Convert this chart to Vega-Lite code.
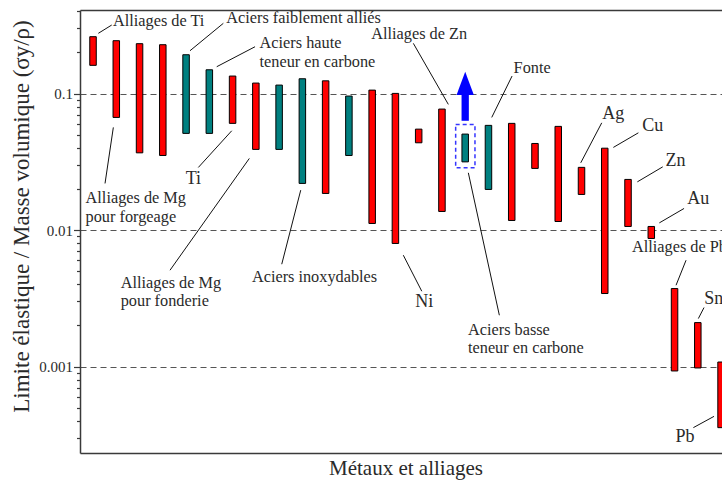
{
  "$schema": "https://vega.github.io/schema/vega-lite/v6.json",
  "width": 642,
  "height": 443,
  "autosize": {"type": "none"},
  "padding": {"left": 80, "top": 10, "right": 0, "bottom": 28},
  "background": "white",
  "config": {
    "view": {"stroke": null},
    "text": {"font": "Liberation Serif"},
    "axis": {"labelFont": "Liberation Serif", "titleFont": "Liberation Serif", "titleFontWeight": "normal", "domainColor": "#3a3a3a", "domainWidth": 1.5}
  },
  "datasets": {
    "barres": [
      {"idx": 1, "bas": 0.161, "haut": 0.261, "groupe": "Non ferreux"},
      {"idx": 2, "bas": 0.0669, "haut": 0.244, "groupe": "Non ferreux"},
      {"idx": 3, "bas": 0.0368, "haut": 0.232, "groupe": "Non ferreux"},
      {"idx": 4, "bas": 0.0352, "haut": 0.228, "groupe": "Non ferreux"},
      {"idx": 5, "bas": 0.0511, "haut": 0.1925, "groupe": "Aciers"},
      {"idx": 6, "bas": 0.0511, "haut": 0.1494, "groupe": "Aciers"},
      {"idx": 7, "bas": 0.0605, "haut": 0.1344, "groupe": "Non ferreux"},
      {"idx": 8, "bas": 0.039, "haut": 0.1194, "groupe": "Non ferreux"},
      {"idx": 9, "bas": 0.039, "haut": 0.1154, "groupe": "Aciers"},
      {"idx": 10, "bas": 0.02197, "haut": 0.1284, "groupe": "Aciers"},
      {"idx": 11, "bas": 0.01855, "haut": 0.124, "groupe": "Non ferreux"},
      {"idx": 12, "bas": 0.0352, "haut": 0.0959, "groupe": "Aciers"},
      {"idx": 13, "bas": 0.01118, "haut": 0.106, "groupe": "Non ferreux"},
      {"idx": 14, "bas": 0.00798, "haut": 0.1003, "groupe": "Non ferreux"},
      {"idx": 15, "bas": 0.0436, "haut": 0.0549, "groupe": "Non ferreux"},
      {"idx": 16, "bas": 0.01369, "haut": 0.077, "groupe": "Non ferreux"},
      {"idx": 17, "bas": 0.0316, "haut": 0.0505, "groupe": "Aciers"},
      {"idx": 18, "bas": 0.01985, "haut": 0.0585, "groupe": "Aciers"},
      {"idx": 19, "bas": 0.01176, "haut": 0.0605, "groupe": "Non ferreux"},
      {"idx": 20, "bas": 0.0283, "haut": 0.0431, "groupe": "Non ferreux"},
      {"idx": 21, "bas": 0.01156, "haut": 0.0575, "groupe": "Non ferreux"},
      {"idx": 22, "bas": 0.01824, "haut": 0.0288, "groupe": "Non ferreux"},
      {"idx": 23, "bas": 0.00343, "haut": 0.0398, "groupe": "Non ferreux"},
      {"idx": 24, "bas": 0.01063, "haut": 0.0235, "groupe": "Non ferreux"},
      {"idx": 25, "bas": 0.00868, "haut": 0.01063, "groupe": "Non ferreux"},
      {"idx": 26, "bas": 0.000929, "haut": 0.00373, "groupe": "Non ferreux"},
      {"idx": 27, "bas": 0.000977, "haut": 0.0021, "groupe": "Non ferreux"},
      {"idx": 28, "bas": 0.000357, "haut": 0.00108, "groupe": "Non ferreux"}
    ],
    "cadre": [
      {"x1": 16.59, "x2": 17.42, "bas": 0.0286, "haut": 0.0594}
    ],
    "fleche": [
      {"idx": 17, "queue": 0.0632, "col": 0.0985, "pointe": 0.1187}
    ],
    "traits": [
      {"x1": 1.228, "y1": 0.2763, "x2": 1.804, "y2": 0.3178},
      {"x1": 5.17, "y1": 0.206, "x2": 6.602, "y2": 0.3271},
      {"x1": 6.318, "y1": 0.1573, "x2": 7.965, "y2": 0.2204},
      {"x1": 1.873, "y1": 0.05652, "x2": 1.516, "y2": 0.02196},
      {"x1": 6.963, "y1": 0.05339, "x2": 5.527, "y2": 0.02876},
      {"x1": 7.72, "y1": 0.03349, "x2": 4.31, "y2": 0.005082},
      {"x1": 9.93, "y1": 0.01962, "x2": 9.113, "y2": 0.005623},
      {"x1": 14.77, "y1": 0.2333, "x2": 16.275, "y2": 0.08332},
      {"x1": 19.014, "y1": 0.1344, "x2": 18.141, "y2": 0.0669},
      {"x1": 14.34, "y1": 0.006546, "x2": 15.133, "y2": 0.003565},
      {"x1": 17.135, "y1": 0.02627, "x2": 18.468, "y2": 0.002377},
      {"x1": 21.967, "y1": 0.0311, "x2": 22.87, "y2": 0.06105},
      {"x1": 23.369, "y1": 0.04033, "x2": 24.445, "y2": 0.0516},
      {"x1": 24.401, "y1": 0.02256, "x2": 25.493, "y2": 0.02906},
      {"x1": 25.346, "y1": 0.01129, "x2": 26.409, "y2": 0.0144},
      {"x1": 26.065, "y1": 0.003945, "x2": 26.495, "y2": 0.006015},
      {"x1": 27.023, "y1": 0.002248, "x2": 27.268, "y2": 0.002708},
      {"x1": 26.809, "y1": 0.0003571, "x2": 27.698, "y2": 0.000432}
    ],
    "notes": [
      {"texte": "Alliages de Ti", "nx": 1.86, "ny": 0.3418, "genre": "etiquette"},
      {"texte": "Aciers faiblement alliés", "nx": 6.73, "ny": 0.3559, "genre": "etiquette"},
      {"texte": "Aciers haute", "nx": 8.16, "ny": 0.2357, "genre": "etiquette"},
      {"texte": "teneur en carbone", "nx": 8.16, "ny": 0.171, "genre": "etiquette"},
      {"texte": "Alliages de Mg", "nx": 0.68, "ny": 0.01705, "genre": "etiquette"},
      {"texte": "pour forgeage", "nx": 0.68, "ny": 0.0125, "genre": "etiquette"},
      {"texte": "Ti", "nx": 5.312, "ny": 0.0235, "genre": "symbole"},
      {"texte": "Alliages de Mg", "nx": 2.19, "ny": 0.0041, "genre": "etiquette"},
      {"texte": "pour fonderie", "nx": 2.19, "ny": 0.003011, "genre": "etiquette"},
      {"texte": "Aciers inoxydables", "nx": 7.83, "ny": 0.004538, "genre": "etiquette"},
      {"texte": "Alliages de Zn", "nx": 12.96, "ny": 0.2716, "genre": "etiquette"},
      {"texte": "Fonte", "nx": 19.08, "ny": 0.1546, "genre": "etiquette"},
      {"texte": "Ni", "nx": 15.243, "ny": 0.002976, "genre": "symbole"},
      {"texte": "Aciers basse", "nx": 17.12, "ny": 0.001867, "genre": "etiquette"},
      {"texte": "teneur en carbone", "nx": 17.12, "ny": 0.001378, "genre": "etiquette"},
      {"texte": "Ag", "nx": 23.369, "ny": 0.07038, "genre": "symbole"},
      {"texte": "Cu", "nx": 25.067, "ny": 0.05777, "genre": "symbole"},
      {"texte": "Zn", "nx": 26.043, "ny": 0.03216, "genre": "symbole"},
      {"texte": "Au", "nx": 27.023, "ny": 0.01676, "genre": "symbole"},
      {"texte": "Alliages de Pb", "nx": 24.17, "ny": 0.007456, "genre": "etiquette"},
      {"texte": "Sn", "nx": 27.68, "ny": 0.003151, "genre": "symbole"},
      {"texte": "Pb", "nx": 26.45, "ny": 0.0003047, "genre": "symbole"}
    ]
  },
  "layer": [
    {
      "data": {"name": "barres"},
      "mark": {"type": "bar", "size": 6.5, "stroke": "black", "strokeWidth": 1},
      "encoding": {
        "x": {
          "field": "idx", "type": "quantitative",
          "scale": {"domain": [0.44, 28.04], "nice": false, "zero": false, "padding": 0},
          "axis": {"orient": "bottom", "title": "Métaux et alliages", "labels": false, "ticks": false, "grid": false,
                   "titleFontSize": 21, "titleColor": "#2a2a2a", "titleX": 325.5, "titleY": 21, "titleAlign": "center", "titleBaseline": "alphabetic"}
        },
        "y": {
          "field": "haut", "type": "quantitative",
          "scale": {"type": "log", "domain": [0.0002328, 0.4095], "nice": false, "padding": 0},
          "axis": {
            "title": "Limite élastique / Masse volumique (σy/ρ)",
            "values": [0.0003, 0.0004, 0.0005, 0.0006, 0.0007, 0.0008, 0.0009, 0.001, 0.002, 0.003, 0.004, 0.005, 0.006, 0.007, 0.008, 0.009, 0.01, 0.02, 0.03, 0.04, 0.05, 0.06, 0.07, 0.08, 0.09, 0.1, 0.2, 0.3, 0.4],
            "labelExpr": "datum.value == 0.1 ? '0.1' : datum.value == 0.01 ? '0.01' : datum.value == 0.001 ? '0.001' : ''",
            "labelOverlap": false,
            "labelFontSize": 15, "labelColor": "#2a2a2a", "labelPadding": 1,
            "tickColor": "#3a3a3a", "tickWidth": 1.2,
            "tickSize": {"condition": {"test": "datum.value == 0.1 || datum.value == 0.01 || datum.value == 0.001", "value": 6.5}, "value": 3.5},
            "grid": true, "gridDash": [6, 4], "gridColor": "#555", "gridWidth": 1.2,
            "gridOpacity": {"condition": {"test": "datum.value == 0.1 || datum.value == 0.01 || datum.value == 0.001", "value": 1}, "value": 0},
            "titleFontSize": 23, "titleColor": "#2a2a2a", "titleAngle": 270, "titleX": -59, "titleY": 206, "titleAlign": "center", "titleBaseline": "middle"
          }
        },
        "y2": {"field": "bas"},
        "color": {"field": "groupe", "type": "nominal", "scale": {"domain": ["Aciers", "Non ferreux"], "range": ["#008080", "#ff0000"]}, "legend": null}
      }
    },
    {
      "data": {"name": "cadre"},
      "mark": {"type": "rect", "filled": false, "stroke": "#3535ff", "strokeWidth": 1.5, "strokeDash": [4, 3]},
      "encoding": {
        "x": {"field": "x1", "type": "quantitative", "axis": {"orient": "top", "labels": false, "ticks": false, "title": null, "grid": false}},
        "x2": {"field": "x2"},
        "y": {"field": "haut", "type": "quantitative"},
        "y2": {"field": "bas"}
      }
    },
    {
      "data": {"name": "fleche"},
      "mark": {"type": "rule", "color": "#0000ff", "strokeWidth": 7.3, "strokeCap": "butt"},
      "encoding": {
        "x": {"field": "idx", "type": "quantitative", "axis": null},
        "y": {"field": "queue", "type": "quantitative"},
        "y2": {"field": "col"}
      }
    },
    {
      "data": {"name": "fleche"},
      "mark": {"type": "point", "shape": "M0,-1L0.742,1L-0.742,1Z", "size": 543, "filled": true, "color": "#0000ff", "opacity": 1, "strokeWidth": 0},
      "encoding": {
        "x": {"field": "idx", "type": "quantitative", "axis": null},
        "y": {"field": "pointe", "type": "quantitative"}
      }
    },
    {
      "data": {"name": "traits"},
      "mark": {"type": "rule", "color": "#111", "strokeWidth": 1},
      "encoding": {
        "x": {"field": "x1", "type": "quantitative", "axis": null},
        "x2": {"field": "x2"},
        "y": {"field": "y1", "type": "quantitative"},
        "y2": {"field": "y2"}
      }
    },
    {
      "data": {"name": "notes"},
      "transform": [{"filter": "datum.genre == 'etiquette'"}],
      "mark": {"type": "text", "align": "left", "baseline": "middle", "fontSize": 16.3, "color": "#2a2a2a", "font": "Liberation Serif"},
      "encoding": {
        "x": {"field": "nx", "type": "quantitative", "axis": null},
        "y": {"field": "ny", "type": "quantitative"},
        "text": {"field": "texte"}
      }
    },
    {
      "data": {"name": "notes"},
      "transform": [{"filter": "datum.genre == 'symbole'"}],
      "mark": {"type": "text", "align": "center", "baseline": "middle", "fontSize": 18, "color": "#2a2a2a", "font": "Liberation Serif"},
      "encoding": {
        "x": {"field": "nx", "type": "quantitative", "axis": null},
        "y": {"field": "ny", "type": "quantitative"},
        "text": {"field": "texte"}
      }
    }
  ],
  "resolve": {"axis": {"x": "independent"}}
}
